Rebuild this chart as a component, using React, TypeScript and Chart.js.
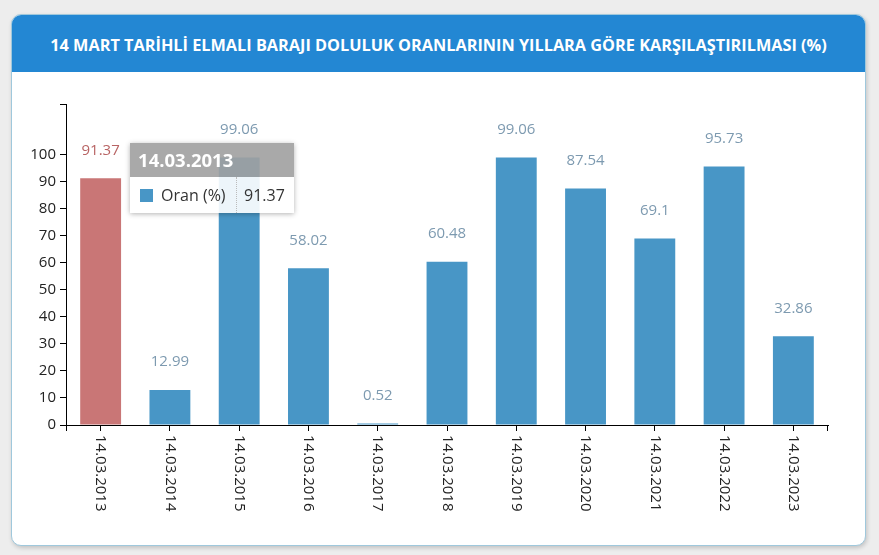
import { useEffect, useRef, useState } from 'react'
import { Chart, registerables } from 'chart.js'

Chart.register(...registerables)

const TITLE =
  '14 MART TARİHLİ ELMALI BARAJI DOLULUK ORANLARININ YILLARA GÖRE KARŞILAŞTIRILMASI (%)'
const SERIES_NAME = 'Oran (%)'
const CATEGORIES = [
  '14.03.2013',
  '14.03.2014',
  '14.03.2015',
  '14.03.2016',
  '14.03.2017',
  '14.03.2018',
  '14.03.2019',
  '14.03.2020',
  '14.03.2021',
  '14.03.2022',
  '14.03.2023',
]
const VALUES = [91.37, 12.99, 99.06, 58.02, 0.52, 60.48, 99.06, 87.54, 69.1, 95.73, 32.86]
const Y_TICKS = [0, 10, 20, 30, 40, 50, 60, 70, 80, 90, 100]
const ACTIVE_INDEX = 0

const BLUE = '#4896c6'
const RED = '#c97676'
const LABEL_BLUE = '#7d9ab0'
const LABEL_RED = '#b86464'
const FONT = '"Open Sans", "Noto Sans", sans-serif'

const yMax = Math.max(...VALUES) * 1.2

// value labels above bars + outer ticks at the ends of the x axis + rotated x labels
const decorPlugin = {
  id: 'decor',
  afterDatasetsDraw(chart: Chart) {
    const ctx = chart.ctx
    const meta = chart.getDatasetMeta(0)
    ctx.save()
    ctx.font = `15px ${FONT}`
    ctx.textAlign = 'center'
    ctx.textBaseline = 'middle'
    meta.data.forEach((bar: any, i) => {
      ctx.fillStyle = i === ACTIVE_INDEX ? LABEL_RED : LABEL_BLUE
      ctx.fillText(String(VALUES[i]), bar.x, bar.y - 28)
    })
    ctx.restore()
  },
  afterDraw(chart: Chart) {
    const ctx = chart.ctx
    const { left, right, bottom } = chart.chartArea
    const x = chart.scales.x
    ctx.save()
    ctx.strokeStyle = '#000'
    ctx.lineWidth = 1
    ctx.beginPath()
    ctx.moveTo(left + 0.5, bottom)
    ctx.lineTo(left + 0.5, bottom + 6)
    ctx.moveTo(right - 0.5, bottom)
    ctx.lineTo(right - 0.5, bottom + 6)
    ctx.stroke()
    ctx.font = `15px ${FONT}`
    ctx.fillStyle = '#222'
    ctx.textAlign = 'left'
    ctx.textBaseline = 'middle'
    CATEGORIES.forEach((c, i) => {
      const px = x.getPixelForValue(i)
      ctx.save()
      ctx.translate(px, bottom + 10)
      ctx.rotate(Math.PI / 2)
      ctx.fillText(c, 0, 0)
      ctx.restore()
    })
    ctx.restore()
  },
}

export default function App() {
  const canvasRef = useRef<HTMLCanvasElement>(null)
  const [tip, setTip] = useState<{ left: number; top: number } | null>(null)

  useEffect(() => {
    document.body.style.margin = '0'
    if (!canvasRef.current) return
    const chart = new Chart(canvasRef.current, {
      type: 'bar',
      data: {
        labels: CATEGORIES,
        datasets: [
          {
            label: SERIES_NAME,
            data: VALUES,
            backgroundColor: VALUES.map((_, i) => (i === ACTIVE_INDEX ? RED : BLUE)),
            barPercentage: 0.59,
            categoryPercentage: 1,
          },
        ],
      },
      options: {
        animation: false,
        responsive: true,
        maintainAspectRatio: false,
        events: [],
        layout: { padding: { left: 14, right: 37, top: 32, bottom: 0 } },
        plugins: {
          legend: { display: false },
          tooltip: { enabled: false },
        },
        scales: {
          x: {
            grid: {
              display: true,
              offset: false,
              drawOnChartArea: false,
              color: '#000',
              tickLength: 6,
            },
            border: { display: true, color: '#000' },
            ticks: { display: false },
            afterFit: (scale: any) => {
              scale.height = 121
            },
          },
          y: {
            min: 0,
            max: yMax,
            afterBuildTicks: (scale: any) => {
              scale.ticks = [...Y_TICKS.map((v) => ({ value: v })), { value: yMax }]
            },
            afterFit: (scale: any) => {
              scale.width = 40
            },
            grid: {
              display: true,
              drawOnChartArea: false,
              color: '#000',
              tickLength: 6,
            },
            border: { display: true, color: '#000' },
            ticks: {
              color: '#222',
              padding: 4,
              font: { family: FONT, size: 15 },
              callback: (v: any) => (Y_TICKS.includes(Number(v)) ? String(v) : ''),
            },
          },
        },
      },
      plugins: [decorPlugin],
    })
    const bar: any = chart.getDatasetMeta(0).data[ACTIVE_INDEX]
    setTip({ left: bar.x + bar.width / 2 + 9, top: bar.y - 35 })
    return () => {
      chart.destroy()
    }
  }, [])

  return (
    <div
      style={{
        position: 'fixed',
        left: 0,
        top: 0,
        width: 879,
        height: 555,
        background: '#ededed',
        fontFamily: FONT,
      }}
    >
      <div
        style={{
          position: 'absolute',
          left: 11,
          top: 14,
          width: 855,
          height: 532,
          boxSizing: 'border-box',
          border: '1px solid #9fc8dc',
          borderRadius: 10,
          background: '#fff',
          overflow: 'hidden',
          boxShadow: '1px 2px 4px rgba(0,0,0,0.18)',
        }}
      >
        <div
          style={{
            height: 57,
            background: '#2387d3',
            color: '#fff',
            fontWeight: 700,
            fontSize: 16.3,
            display: 'flex',
            alignItems: 'center',
            justifyContent: 'center',
            paddingTop: 2,
            boxSizing: 'border-box',
            whiteSpace: 'nowrap',
          }}
        >
          {TITLE}
        </div>
        <div style={{ position: 'absolute', left: 0, top: 57, width: 853, height: 474 }}>
          <canvas ref={canvasRef} />
          {tip && (
            <div
              style={{
                position: 'absolute',
                left: tip.left,
                top: tip.top,
                width: 164,
                boxShadow: '0 1px 5px rgba(0,0,0,0.3)',
              }}
            >
              <div
                style={{
                  height: 34,
                  lineHeight: '34px',
                  background: 'rgba(160,160,160,0.9)',
                  color: '#fff',
                  fontWeight: 700,
                  fontSize: 18.5,
                  paddingLeft: 8,
                }}
              >
                {CATEGORIES[ACTIVE_INDEX]}
              </div>
              <div
                style={{
                  height: 36,
                  display: 'flex',
                  alignItems: 'center',
                  background: 'rgba(255,255,255,0.9)',
                  fontSize: 16,
                  color: '#333',
                }}
              >
                <span
                  style={{
                    width: 13,
                    height: 13,
                    background: BLUE,
                    marginLeft: 10,
                    marginRight: 8,
                  }}
                />
                <span style={{ width: 75 }}>{SERIES_NAME}</span>
                <span
                  style={{
                    alignSelf: 'stretch',
                    borderLeft: '1px dotted #bbb',
                    marginRight: 7,
                  }}
                />
                <span>{VALUES[ACTIVE_INDEX]}</span>
              </div>
            </div>
          )}
        </div>
      </div>
    </div>
  )
}
